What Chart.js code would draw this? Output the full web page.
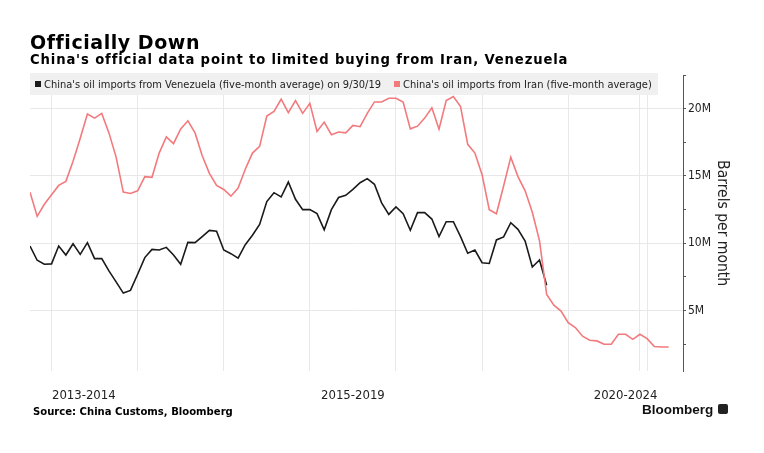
<!DOCTYPE html>
<html>
<head>
<meta charset="utf-8">
<script src="https://cdn.jsdelivr.net/npm/chart.js@4.4.0/dist/chart.umd.min.js"></script>
<style>
  html, body { margin: 0; padding: 0; background: #fff; }
  #wrap { position: relative; width: 764px; height: 453px; overflow: hidden; }
  #chart { position: absolute; left: 0; top: 0; }
  .txt { position: absolute; white-space: nowrap; line-height: 1; color: #000; }
  #title { left: 30px; top: 31px; font: bold 19px "DejaVu Sans"; letter-spacing: 0.55px; }
  #subtitle { left: 30px; top: 51.5px; font: bold 13.2px "DejaVu Sans"; letter-spacing: 0.85px; }
  #legend { position: absolute; left: 30px; top: 73px; width: 628px; height: 22px; background: #f0f0f0;
    font: 11px "DejaVu Sans Condensed"; color: #222; display: flex; align-items: center; white-space: nowrap; }
  #legend .sw { display: inline-block; width: 6px; height: 6px; margin: 0 3px 0 5px; }
  #source { left: 33px; top: 405.2px; font: bold 11.2px "DejaVu Sans Condensed"; }
  #brand { left: 642px; top: 402.4px; font: bold 13.5px "Liberation Sans"; color: #111; }
  #logo { position: absolute; left: 718px; top: 404px; width: 10px; height: 10px; background: #222; border-radius: 2px; }
</style>
</head>
<body>
<div id="wrap">
  <canvas id="chart" width="764" height="453"></canvas>
  <div class="txt" id="title">Officially Down</div>
  <div class="txt" id="subtitle">China's official data point to limited buying from Iran, Venezuela</div>
  <div id="legend">
    <span class="sw" style="background:#1a1a1a"></span><span>China's oil imports from Venezuela (five-month average) on 9/30/19</span>
    <span class="sw" style="background:#f27a7d;margin-left:13px"></span><span>China's oil imports from Iran (five-month average)</span>
  </div>
  <div class="txt" id="source">Source: China Customs, Bloomberg</div>
  <div class="txt" id="brand">Bloomberg</div>
  <div id="logo"></div>
</div>
<script>
// monthly categories, Oct 2013 .. Mar 2021
const startYear = 2013, startMonth = 9;
const months = [];
for (let i = 0; i < 90; i++) {
  const m = startMonth + i;
  months.push((startYear + Math.floor(m / 12)) + '-' + String(m % 12 + 1).padStart(2, '0'));
}

// million barrels per month
const venezuela = [
  9.8, 8.74, 8.44, 8.47, 9.8, 9.13, 9.97, 9.18, 10.05, 8.86,
  8.86, 7.95, 7.13, 6.3, 6.5, 7.7, 8.94, 9.55, 9.5, 9.7,
  9.13, 8.44, 10.07, 10.05, 10.5, 10.96, 10.9, 9.5, 9.23, 8.9,
  9.9, 10.6, 11.4, 13.1, 13.76, 13.44, 14.55, 13.27, 12.5, 12.5,
  12.2, 11.0, 12.5, 13.4, 13.56, 14.0, 14.5, 14.8, 14.38, 13.0,
  12.15, 12.7, 12.2, 10.97, 12.28, 12.28, 11.8, 10.5, 11.6, 11.6,
  10.5, 9.26, 9.5, 8.56, 8.5, 10.25, 10.47, 11.53, 11.04, 10.17,
  8.24, 8.76, 6.88
];
const iran = [
  13.8, 12.0, 12.9, 13.6, 14.3, 14.6, 16.1, 17.8, 19.6, 19.3,
  19.65, 18.2, 16.4, 13.8, 13.7, 13.9, 14.95, 14.9, 16.7, 17.9,
  17.4, 18.5, 19.1, 18.2, 16.5, 15.2, 14.3, 14.0, 13.5, 14.1,
  15.5, 16.7, 17.2, 19.45, 19.8, 20.7, 19.7, 20.6, 19.65, 20.4,
  18.3, 19.0, 18.07, 18.27, 18.2, 18.76, 18.66, 19.65, 20.5, 20.5,
  20.77, 20.77, 20.5, 18.5, 18.7, 19.3, 20.07, 18.47, 20.6, 20.9,
  20.15, 17.35, 16.7, 15.1, 12.5, 12.2, 14.26, 16.4, 14.95, 13.9,
  12.3, 10.2, 6.2, 5.4, 4.97, 4.1, 3.74, 3.1, 2.8, 2.75,
  2.5, 2.5, 3.24, 3.24, 2.87, 3.24, 2.92, 2.33, 2.3, 2.3
];

// x axis: vertical grid positions and period labels (in month index)
const xGridAt = [3, 15, 27, 39, 51, 63, 75, 85, 86];
const xLabelAt = [7.5, 45, 83];
const xLabels = ['2013-2014', '2015-2019', '2020-2024'];
const yTicks = [2.5, 5, 7.5, 10, 12.5, 15, 17.5, 20, 22.5];

const toPoints = arr => arr.map((v, i) => ({ x: i, y: v }));

new Chart(document.getElementById('chart'), {
  type: 'line',
  data: {
    labels: months,
    datasets: [
      { label: "China's oil imports from Iran (five-month average)", data: toPoints(iran),
        borderColor: '#f27a7d', borderWidth: 1.6 },
      { label: "China's oil imports from Venezuela (five-month average) on 9/30/19", data: toPoints(venezuela),
        borderColor: '#1a1a1a', borderWidth: 1.6 },
    ],
  },
  options: {
    responsive: false,
    animation: false,
    layout: { padding: { left: 30, top: 75, right: 33, bottom: 32.4 } },
    elements: { point: { radius: 0 }, line: { tension: 0 } },
    plugins: { legend: { display: false }, tooltip: { enabled: false } },
    scales: {
      x: {
        type: 'linear',
        min: 0,
        max: 91,
        afterBuildTicks: s => {
          s.ticks = xGridAt.concat(xLabelAt).sort((a, b) => a - b).map(v => ({ value: v }));
        },
        ticks: {
          autoSkip: false,
          maxRotation: 0,
          padding: 16.9,
          color: '#222',
          font: { family: 'DejaVu Sans Condensed', size: 13 },
          callback: v => {
            const k = xLabelAt.indexOf(v);
            return k >= 0 ? xLabels[k] : '';
          },
        },
        grid: {
          drawTicks: false,
          color: ctx => (ctx.tick && xGridAt.includes(ctx.tick.value)) ? '#e8e8e8' : 'rgba(0,0,0,0)',
        },
        border: { display: false },
      },
      y: {
        position: 'right',
        min: 0.5,
        max: 22.5,
        afterBuildTicks: s => { s.ticks = yTicks.map(v => ({ value: v })); },
        afterFit: s => { s.width = 48; },
        ticks: {
          autoSkip: false,
          padding: 2,
          color: '#222',
          font: { family: 'DejaVu Sans Condensed', size: 12 },
          callback: v => (v % 5 === 0 ? v + 'M' : ''),
        },
        grid: {
          tickLength: 3,
          tickColor: '#555',
          color: ctx => (ctx.tick && ctx.tick.value % 5 === 0) ? '#e8e8e8' : 'rgba(0,0,0,0)',
        },
        border: { display: true, color: '#555' },
        title: {
          display: true,
          text: 'Barrels per month',
          color: '#222',
          padding: 0,
          font: { family: 'DejaVu Sans Condensed', size: 15.5 },
        },
      },
    },
  },
});
</script>
</body>
</html>
